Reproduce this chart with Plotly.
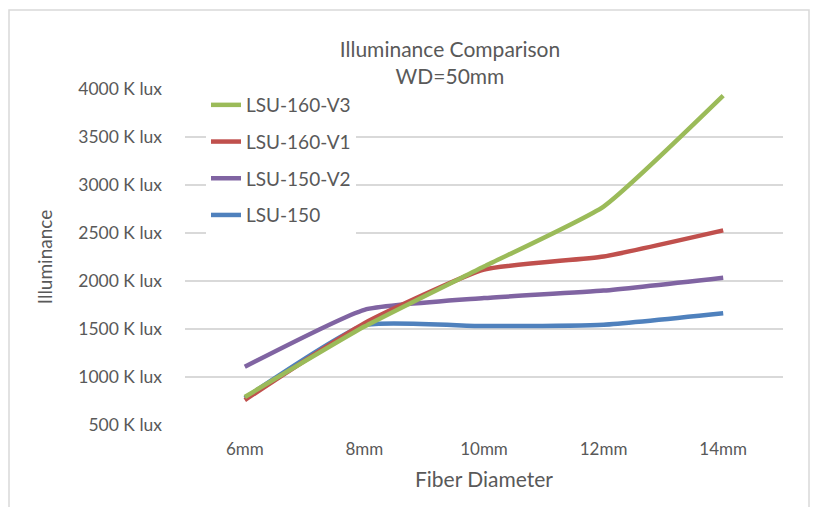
import plotly.graph_objects as go

categories = ["6mm", "8mm", "10mm", "12mm", "14mm"]
lsu_150 = [780, 1540, 1530, 1545, 1665]
lsu_150_v2 = [1107, 1700, 1822, 1900, 2035]
lsu_160_v1 = [760, 1560, 2120, 2255, 2527]
lsu_160_v3 = [792, 1525, 2150, 2775, 3930]
y_ticks = [500, 1000, 1500, 2000, 2500, 3000, 3500, 4000]
y_tick_labels = [f"{v} K lux" for v in y_ticks]

series = [
    ("LSU-150", lsu_150, "#4F81BD", 4),
    ("LSU-150-V2", lsu_150_v2, "#8064A2", 3),
    ("LSU-160-V1", lsu_160_v1, "#C0504D", 2),
    ("LSU-160-V3", lsu_160_v3, "#9BBB59", 1),
]

FONT = "Lato, 'Open Sans', sans-serif"
GRAY = "#595959"

fig = go.Figure()
for name, vals, color, rank in series:
    fig.add_trace(go.Scatter(
        x=categories, y=vals, name=name, mode="lines",
        line=dict(color=color, width=4.5, shape="spline", smoothing=0.45),
        legendgroup=name, legendrank=rank,
    ))

L, R, T, B = 185, 31, 89, 82
W, H = 814, 507
pw, ph = W - L - R, H - T - B

def px_x(x):
    return (x - L) / pw

def px_y(y):
    return (H - B - y) / ph

fig.update_layout(
    width=W, height=H,
    margin=dict(l=L, r=R, t=T, b=B),
    paper_bgcolor="white", plot_bgcolor="white",
    font=dict(family=FONT, color=GRAY, size=17),
    title=dict(
        text="Illuminance Comparison<br>WD=50mm",
        x=450 / W, xanchor="center", y=1 - 57 / H, yanchor="middle",
        font=dict(size=21, color=GRAY, family=FONT),
    ),
    xaxis=dict(
        type="category", range=[-0.5, 4.5], automargin=False,
        showgrid=False, zeroline=False, showline=False,
        ticks="", tickfont=dict(size=17, color=GRAY), ticklabelstandoff=12,
        title=dict(text="Fiber Diameter", font=dict(size=21, color=GRAY), standoff=14),
    ),
    yaxis=dict(
        range=[500, 4000], tickvals=y_ticks, ticktext=y_tick_labels, automargin=False,
        showgrid=True, gridcolor="#D9D9D9", gridwidth=1.5,
        zeroline=False, showline=False, ticks="",
        tickfont=dict(size=17.5, color=GRAY), ticklabelstandoff=22,
        title=dict(text="Illuminance", font=dict(size=19, color=GRAY), standoff=20),
    ),
    legend=dict(
        x=px_x(206), y=px_y(86), xanchor="left", yanchor="top",
        traceorder="grouped", tracegroupgap=9,
        bgcolor="white", font=dict(size=19, color=GRAY),
        itemwidth=30,
    ),
    showlegend=True,
)

fig.add_shape(
    type="rect", xref="paper", yref="paper",
    x0=px_x(9), x1=px_x(809), y0=px_y(520), y1=px_y(10),
    line=dict(color="#D9D9D9", width=1.5), fillcolor="rgba(0,0,0,0)", layer="below",
)

fig.write_html("out.html", config={"displayModeBar": False},
               post_script="document.body.style.margin='0';")
